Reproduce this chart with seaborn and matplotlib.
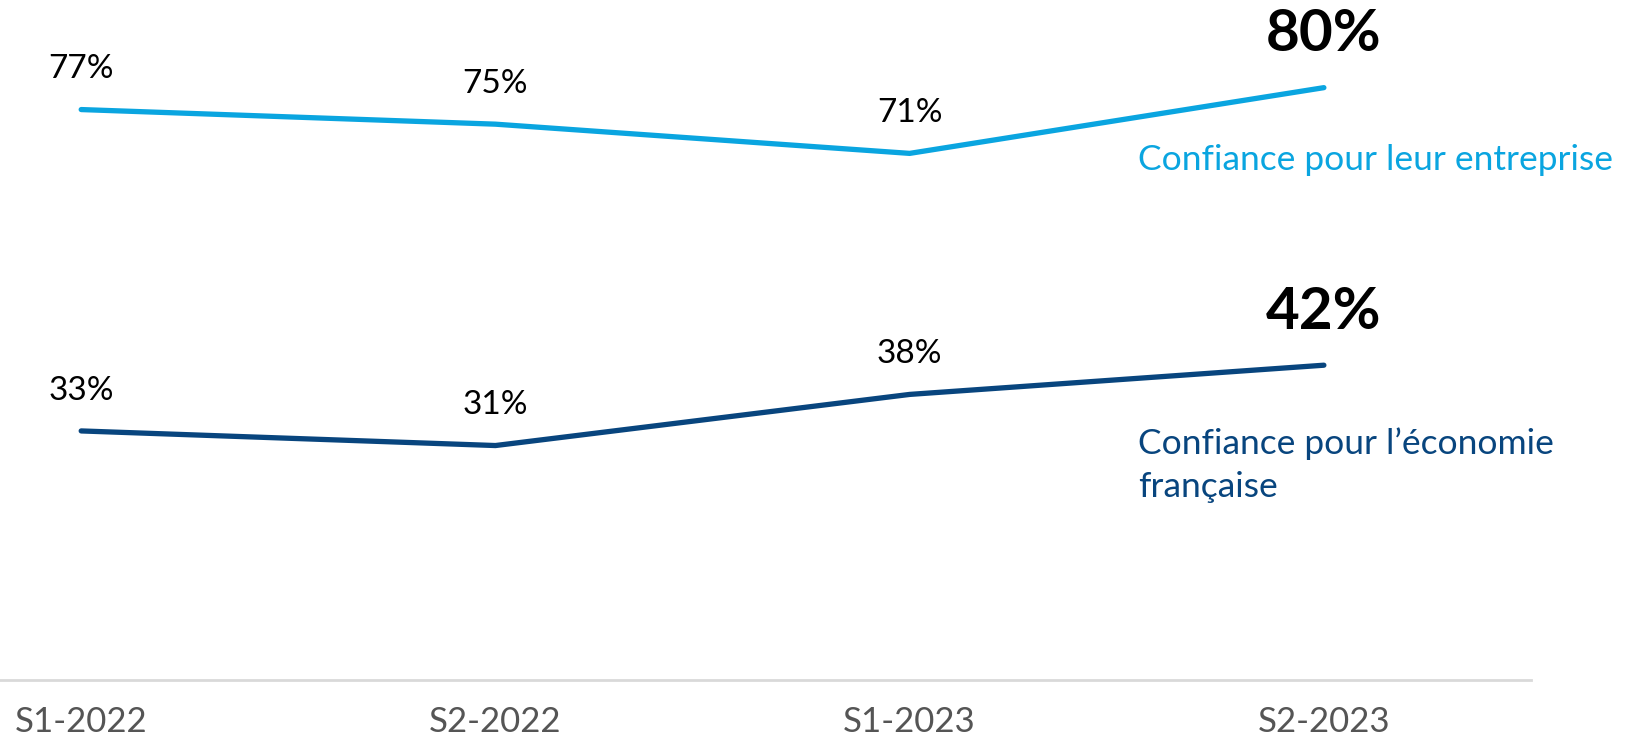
import matplotlib
matplotlib.use("Agg")
import matplotlib.pyplot as plt
import seaborn as sns
import pandas as pd

periods = ["S1-2022", "S2-2022", "S1-2023", "S2-2023"]
entreprise = [77, 75, 71, 80]
economie = [33, 31, 38, 42]
series_names = ["Confiance pour leur entreprise", "Confiance pour l’économie\nfrançaise"]
colors = ["#0AA5E0", "#08457E"]

sns.set_theme(style="white")
plt.rcParams["font.family"] = ["Lato", "DejaVu Sans"]

df = pd.DataFrame({
    "period": periods * 2,
    "x": list(range(len(periods))) * 2,
    "value": entreprise + economie,
    "series": [series_names[0]] * 4 + [series_names[1]] * 4,
})

W, H = 1635, 744
fig = plt.figure(figsize=(W / 100, H / 100), dpi=100)
ax = fig.add_axes([0, 1 - 680 / H, 1531 / W, 680 / H])

sns.lineplot(data=df, x="x", y="value", hue="series", palette=colors,
             linewidth=3.8, legend=False, ax=ax, solid_capstyle="round")

ax.set_xlim(-0.196, 3.5)
ax.set_ylim(-1.1, 92.0)

for s in ["top", "right", "left"]:
    ax.spines[s].set_visible(False)
ax.spines["bottom"].set_color("#D9D9D9")
ax.spines["bottom"].set_linewidth(2)

ax.set_xticks(range(len(periods)))
ax.set_xticklabels(periods, fontsize=25, color="#555555")
ax.tick_params(axis="x", length=0, pad=19)
ax.set_yticks([])
ax.set_xlabel("")
ax.set_ylabel("")

for vals, name, col, lab_off in [(entreprise, series_names[0], colors[0], -52),
                                  (economie, series_names[1], colors[1], -72)]:
    n = len(vals)
    for i, v in enumerate(vals):
        if i < n - 1:
            ax.annotate(f"{v}%", (i, v), xytext=(0, 29), textcoords="offset points",
                        ha="center", va="center", fontsize=24, color="black")
        else:
            ax.annotate(f"{v}%", (i, v), xytext=(0, 38), textcoords="offset points",
                        ha="center", va="center", fontsize=42, fontweight="bold",
                        color="black")
    ax.annotate(name, (n - 1, vals[-1]), xytext=(-134, lab_off), textcoords="offset points",
                ha="left", va="center", fontsize=25.5, color=col, linespacing=1.4,
                annotation_clip=False)

fig.savefig("out.png", dpi=100)
